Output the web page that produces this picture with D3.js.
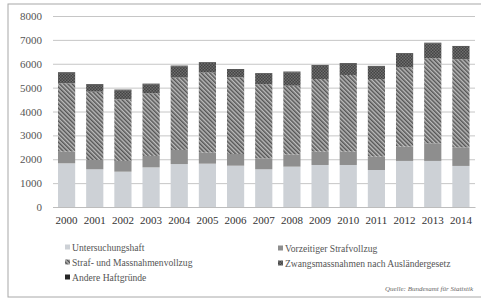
<!DOCTYPE html>
<html>
<head>
<meta charset="utf-8">
<script src="https://cdnjs.cloudflare.com/ajax/libs/d3/7.8.5/d3.min.js"></script>
<style>
  body { margin: 0; background: #fff; }
  svg text { font-family: "Liberation Serif", "DejaVu Serif", serif; }
</style>
</head>
<body>
<div id="chart"></div>
<script>
// Data
var years = ["2000","2001","2002","2003","2004","2005","2006","2007","2008","2009","2010","2011","2012","2013","2014"];
var untersuchungshaft = [1830,1580,1480,1660,1800,1815,1730,1580,1690,1760,1760,1550,1930,1930,1720];
var vorzeitiger = [490,390,450,480,590,465,490,460,510,560,560,560,600,740,780];
var strafvollzug = [2860,2860,2580,2620,3030,3350,3210,3100,2880,3040,3210,3250,3310,3560,3690];
var zwangsmassnahmen = [430,280,375,375,470,400,320,430,560,560,460,520,570,620,525];
var andere = [30,30,30,30,30,30,30,30,30,30,30,30,30,30,30];
var seriesNames = ["Untersuchungshaft","Vorzeitiger Strafvollzug","Straf- und Massnahmenvollzug","Zwangsmassnahmen nach Ausländergesetz","Andere Haftgründe"];
var yTicks = [0,1000,2000,3000,4000,5000,6000,7000,8000];

// SVG size
var svgWidth = 481;
var svgHeight = 300;

var svg = d3.select("#chart")
    .append("svg")
    .attr("width", svgWidth)
    .attr("height", svgHeight);

// Patterns for the hatched series
var defs = svg.append("defs");

var hatch = defs.append("pattern")
    .attr("id", "hatch")
    .attr("patternUnits", "userSpaceOnUse")
    .attr("width", 3)
    .attr("height", 3)
    .attr("patternTransform", "rotate(-45)");
hatch.append("rect").attr("width", 3).attr("height", 3).attr("fill", "#bcbcbc");
hatch.append("rect").attr("width", 1.5).attr("height", 3).attr("fill", "#555");

var checker = defs.append("pattern")
    .attr("id", "checker")
    .attr("patternUnits", "userSpaceOnUse")
    .attr("width", 3)
    .attr("height", 3);
checker.append("rect").attr("width", 3).attr("height", 3).attr("fill", "#444");
checker.append("rect").attr("width", 1.5).attr("height", 1.5).attr("fill", "#6e6e6e");
checker.append("rect").attr("x", 1.5).attr("y", 1.5).attr("width", 1.5).attr("height", 1.5).attr("fill", "#6e6e6e");

var fills = ["#cdd1d6", "#8e8e8e", "url(#hatch)", "url(#checker)", "#262626"];

// Scan frame
svg.append("rect")
    .attr("x", 8)
    .attr("y", 4)
    .attr("width", 500)
    .attr("height", 293)
    .attr("fill", "none")
    .attr("stroke", "#a8a8a8")
    .attr("stroke-width", 1);

// Scales
var xScale = d3.scaleBand()
    .domain(years)
    .range([52.5, 475])
    .paddingInner(0.39)
    .paddingOuter(0.195);

var yScale = d3.scaleLinear()
    .domain([0, 8000])
    .range([207, 16]);

// Gridlines + y labels
var yAxis = d3.axisLeft(yScale)
    .tickValues(yTicks)
    .tickSize(-(475 - 53))
    .tickPadding(11)
    .tickFormat(d3.format("d"));

var yGroup = svg.append("g")
    .attr("transform", "translate(53,0)")
    .call(yAxis);
yGroup.select(".domain").remove();
yGroup.selectAll(".tick line").attr("stroke", "#c6c6c6").attr("stroke-width", 1);
yGroup.selectAll(".tick text")
    .attr("fill", "#555")
    .style("font-size", "11px");

// Stack the series
var rows = years.map(function(y, i) {
    return { year: y, s0: untersuchungshaft[i], s1: vorzeitiger[i], s2: strafvollzug[i], s3: zwangsmassnahmen[i], s4: andere[i] };
});
var stacked = d3.stack().keys(["s0","s1","s2","s3","s4"])(rows);

svg.append("g")
    .selectAll("g")
    .data(stacked)
    .enter()
    .append("g")
    .attr("fill", (d, i) => fills[i])
    .selectAll("rect")
    .data(d => d)
    .enter()
    .append("rect")
    .attr("x", d => xScale(d.data.year))
    .attr("y", d => yScale(d[1]))
    .attr("width", xScale.bandwidth())
    .attr("height", d => yScale(d[0]) - yScale(d[1]));

// X axis
var xAxis = d3.axisBottom(xScale).tickSize(0).tickPadding(9);
var xGroup = svg.append("g")
    .attr("transform", "translate(0,207)")
    .call(xAxis);
xGroup.select(".domain").attr("stroke", "#bdbdbd");
xGroup.selectAll(".tick text")
    .attr("fill", "#333")
    .style("font-size", "11px");

// Legend
var legendPos = [[65, 248], [278, 249], [65, 263], [278, 264], [65, 278]];
var legend = svg.append("g")
    .selectAll("g")
    .data(seriesNames)
    .enter()
    .append("g")
    .attr("transform", (d, i) => `translate(${legendPos[i][0]},${legendPos[i][1]})`);

legend.append("rect")
    .attr("x", 0)
    .attr("y", -3.5)
    .attr("width", 5)
    .attr("height", 5)
    .attr("fill", (d, i) => fills[i]);

legend.append("text")
    .attr("x", 7)
    .attr("y", 0)
    .attr("dy", "0.35em")
    .attr("fill", "#555")
    .style("font-size", "9.6px")
    .text(d => d);

// Source note
svg.append("text")
    .attr("x", 473)
    .attr("y", 291)
    .attr("text-anchor", "end")
    .attr("fill", "#666")
    .style("font-size", "7px")
    .style("font-style", "italic")
    .text("Quelle: Bundesamt für Statistik");
</script>
</body>
</html>
